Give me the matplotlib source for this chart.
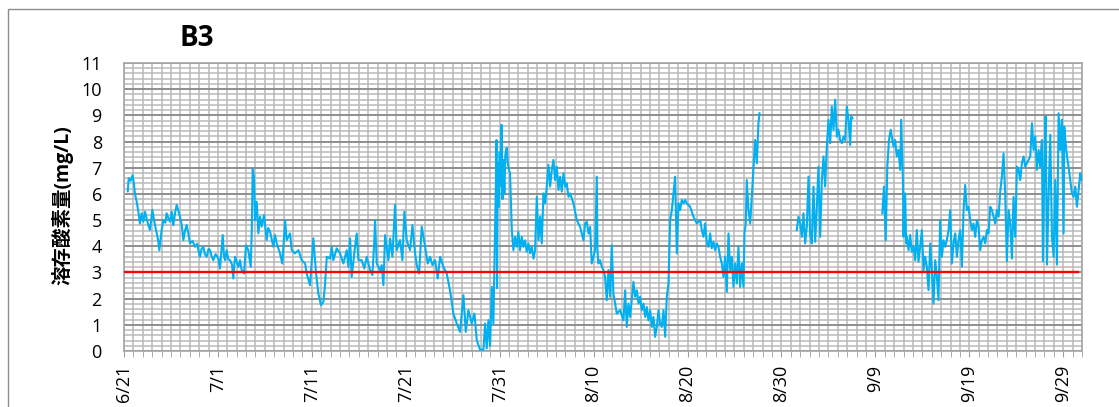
import matplotlib
matplotlib.use('Agg')
import matplotlib.pyplot as plt
from matplotlib.patches import Rectangle
from matplotlib.ticker import MultipleLocator

# days since 6/21 and dissolved oxygen (mg/L)
seg1_day = [0.40, 0.50, 0.70, 0.92, 1.05, 1.17, 1.35, 1.53, 1.70, 1.88, 2.06, 2.24, 2.45, 2.59,
            2.77, 3.02, 3.23, 3.48, 3.65, 3.76, 4.01, 4.19, 4.40, 4.54, 4.70, 4.90, 5.08, 5.25,
            5.45, 5.61, 5.96, 6.15, 6.32, 6.50, 6.67, 6.85, 7.03, 7.30, 7.56, 7.80, 7.92, 8.09,
            8.25, 8.45, 8.60, 8.80, 9.00, 9.16, 9.35, 9.51, 9.75, 10.05, 10.22, 10.51, 10.65,
            10.76, 10.93, 11.10, 11.29, 11.50, 11.64, 11.82, 12.00, 12.18, 12.35, 12.53, 12.78,
            12.99, 13.24, 13.49, 13.60, 13.70, 13.84, 13.95, 14.13, 14.31, 14.48, 14.66, 14.91,
            15.19, 15.35, 15.55, 15.90, 16.08, 16.26, 16.61, 16.86, 17.15, 17.32, 17.68, 17.86,
            18.21, 18.57, 18.92, 19.28, 19.45, 19.81, 20.16, 20.45, 20.69, 20.98, 21.23, 21.41,
            21.59, 21.94, 22.12, 22.29, 22.65, 23.00, 23.36, 23.71, 23.89, 24.07, 24.24, 24.60,
            24.78, 24.96, 25.31, 25.59, 25.84, 26.20, 26.45, 26.66, 26.73, 26.91, 27.26, 27.44,
            27.62, 27.80, 28.15, 28.33, 28.58, 28.86, 29.04, 29.39, 29.64, 29.85, 30.10, 30.46,
            30.71, 30.99, 31.17, 31.42, 31.70, 32.06, 32.34, 32.59, 32.84, 33.12, 33.40, 33.66,
            34.01, 34.36, 34.71, 35.07, 35.43, 35.78, 36.14, 36.39, 36.67, 37.02, 37.31, 37.56,
            37.91, 38.27, 38.45, 38.62, 38.80, 38.98, 39.16, 39.33, 39.51, 39.60, 39.66, 39.72,
            39.80, 39.90, 40.00, 40.10, 40.20, 40.30, 40.40, 40.50, 40.60, 40.75, 40.85, 41.00,
            41.10, 41.29, 41.46, 41.64, 41.82, 41.99, 42.17, 42.35, 42.53, 42.70, 42.88, 43.06,
            43.24, 43.42, 43.60, 43.77, 43.95, 44.13, 44.31, 44.48, 44.66, 44.84, 45.01, 45.19,
            45.37, 45.55, 45.72, 45.90, 46.08, 46.26, 46.43, 46.61, 46.79, 46.97, 47.14, 47.32,
            47.50, 47.85, 48.21, 48.56, 48.92, 49.09, 49.27, 49.45, 49.63, 49.80, 49.98, 50.16,
            50.34, 50.41, 50.51, 50.69, 50.87, 51.05, 51.22, 51.40, 51.58, 51.76, 51.93, 52.11,
            52.29, 52.47, 52.82, 53.18, 53.36, 53.53, 53.71, 53.89, 54.24, 54.42, 54.60, 54.78,
            54.95, 55.13, 55.31, 55.49, 55.66, 55.84, 56.02, 56.20, 56.37, 56.55, 56.73, 56.91,
            57.08, 57.26, 57.44, 57.62, 57.79, 57.97, 58.15, 58.33, 58.50, 58.68, 58.86, 59.04,
            59.21, 59.39, 59.57, 59.75, 59.92, 60.28, 60.63, 60.99, 61.35, 61.52, 61.70, 61.87,
            62.06, 62.23, 62.41, 62.58, 62.76, 62.94, 63.12, 63.29, 63.47, 63.65, 63.83, 64.00,
            64.18, 64.36, 64.54, 64.71, 64.89, 65.07, 65.25, 65.42, 65.60, 65.78, 65.96, 66.06,
            66.20, 66.31, 66.49, 66.67, 66.84, 67.02, 67.20, 67.38, 67.55, 67.66]
seg1_do = [6.10, 6.60, 6.50, 6.72, 6.40, 6.00, 5.70, 5.32, 4.87, 5.26, 4.94, 5.32, 5.00, 4.81,
           4.62, 5.39, 4.94, 4.49, 4.20, 3.85, 4.62, 5.00, 4.90, 5.26, 5.10, 4.94, 5.32, 4.81,
           5.30, 5.58, 5.13, 4.80, 4.24, 4.60, 4.81, 4.50, 4.11, 4.20, 3.98, 4.10, 3.85, 3.60,
           3.90, 3.98, 3.70, 3.60, 3.90, 3.85, 3.60, 3.47, 3.70, 3.53, 3.15, 4.43, 3.60,
           3.47, 3.85, 3.50, 3.47, 3.30, 2.77, 3.60, 3.40, 3.21, 3.47, 3.09, 2.96,
           4.04, 3.85, 3.21, 4.50, 6.94, 6.66, 5.00, 5.70, 4.49, 5.13, 4.75, 5.19,
           4.24, 4.70, 4.56, 3.98, 4.43, 4.11, 3.73, 3.34, 5.00, 4.24, 4.49, 3.85,
           3.73, 3.85, 3.47, 3.34, 2.96, 2.51, 4.30, 2.96, 2.20, 1.75, 1.88, 2.56,
           3.60, 3.53, 3.98, 3.47, 3.92, 3.73, 3.34, 3.85, 3.21, 4.30, 2.83, 3.98,
           4.49, 3.47, 3.47, 3.15, 3.60, 3.09, 2.90, 4.30, 5.00, 3.34, 3.09, 3.28,
           2.51, 4.43, 3.47, 4.30, 3.60, 5.58, 3.85, 4.24, 3.47, 5.32, 4.24, 3.85,
           4.81, 3.73, 3.28, 2.96, 4.75, 3.98, 3.34, 3.60, 3.28, 3.47, 2.77, 3.60,
           3.21, 2.96, 2.32, 1.43, 1.05, 0.73, 2.13, 0.73, 1.56, 1.05, 1.43, 0.41,
           0.05, 0.05, 1.05, 0.10, 1.18, 0.20, 2.45, 1.05, 4.62, 6.50, 8.06, 2.40,
           7.20, 5.50, 7.60, 6.30, 8.64, 5.80, 7.30, 6.00, 7.50, 7.76, 7.20, 6.90,
           6.80, 4.62, 3.85, 4.36, 3.98, 4.55, 3.85, 4.36, 3.98, 4.23, 3.79, 4.11,
           3.73, 3.98, 3.53, 3.85, 5.89, 4.23, 5.13, 4.11, 6.02, 5.64, 6.28, 7.11,
           6.28, 6.92, 7.30, 6.53, 7.04, 6.15, 6.66, 6.09, 6.79, 6.28, 6.41, 5.89,
           6.02, 5.64, 5.00, 4.74, 4.23, 4.87, 4.94, 4.49, 4.74, 3.34, 3.60, 3.85,
           6.66, 3.85, 3.34, 3.47, 3.22, 3.09, 2.83, 1.94, 3.09, 2.07, 4.04, 2.19,
           1.81, 1.43, 1.56, 1.17, 2.32, 0.92, 1.81, 1.30, 2.64, 2.07, 2.32, 1.81,
           2.07, 1.56, 1.81, 1.30, 1.68, 1.17, 1.56, 0.92, 1.30, 0.54, 0.92, 1.56,
           1.05, 0.92, 1.56, 0.54, 2.07, 2.58, 5.00, 5.38, 6.02, 6.66, 3.73, 5.64,
           5.38, 5.77, 5.64, 5.77, 5.64, 5.51, 5.13, 4.87, 5.00, 4.62, 4.36, 4.87,
           4.11, 3.98, 4.49, 3.92, 4.17, 3.85, 4.11, 3.98, 3.60, 3.34, 2.83, 3.60,
           2.26, 4.49, 3.09, 3.60, 2.45, 3.34, 2.58, 3.98, 2.45, 3.34, 2.45, 4.49,
           4.87, 6.53, 5.38, 4.87, 5.89, 6.92, 8.06, 7.17, 8.70, 9.08]

seg2_day = [71.63, 71.81, 71.99, 72.17, 72.34, 72.52, 72.70, 72.88, 73.05, 73.23, 73.41, 73.59,
            73.77, 73.94, 74.12, 74.30, 74.48, 74.65, 74.83, 75.01, 75.19, 75.36, 75.54, 75.72,
            75.90, 76.07, 76.25, 76.43, 76.61, 76.78, 76.96, 77.14, 77.32, 77.42, 77.56]
seg2_do = [4.62, 5.13, 4.87, 4.36, 5.26, 4.11, 4.74, 6.66, 4.49, 4.11, 6.28, 4.17,
           5.51, 7.04, 4.36, 6.53, 7.43, 6.28, 7.81, 8.83, 7.94, 9.34, 8.45, 9.60,
           8.19, 8.45, 8.06, 7.94, 8.19, 8.06, 9.34, 8.83, 7.87, 8.96, 8.89]

seg3_day = [80.74, 80.92, 81.10, 81.27, 81.45, 81.63, 81.75, 81.93, 82.11, 82.28, 82.46, 82.64,
            82.75, 82.93, 83.00, 83.07, 83.17, 83.28, 83.35, 83.53, 83.70, 83.88, 84.06, 84.24,
            84.41, 84.59, 84.77, 84.95, 85.13, 85.30, 85.48, 85.66, 85.84, 86.01, 86.19, 86.37,
            86.55, 86.72, 86.90, 87.08, 87.26, 87.43, 87.61, 87.79, 87.97, 88.14, 88.32, 88.50,
            88.68, 88.85, 89.03, 89.21, 89.39, 89.56, 89.74, 89.92, 90.10, 90.27, 90.45, 90.63,
            90.81, 90.99, 91.16, 91.34, 91.52, 91.70, 91.87, 92.05, 92.23, 92.41, 92.58, 92.76,
            92.94, 93.12, 93.29, 93.47, 93.65, 93.83, 94.00, 94.18, 94.36, 94.54, 94.71, 94.89,
            95.07, 95.25, 95.42, 95.60, 95.78, 95.96, 96.13, 96.31, 96.49, 96.67, 96.84, 97.02,
            97.20, 97.38, 97.55, 97.73, 97.84, 97.98, 98.12, 98.27, 98.44, 98.62, 98.80, 98.98,
            99.15, 99.33, 99.51, 99.69, 99.86, 100.04, 100.11, 100.29, 100.40, 100.57, 100.75,
            100.93, 101.11, 101.28, 101.46, 101.64, 101.82, 101.95]
seg3_do = [5.26, 6.28, 4.23, 7.04, 8.06, 8.45, 8.19, 7.81, 8.06, 7.43, 7.68, 6.92,
           8.83, 6.53, 4.36, 5.89, 6.02, 4.11, 4.36, 3.85, 4.43, 3.79, 3.98, 3.47,
           4.62, 3.41, 3.98, 4.62, 3.09, 3.60, 3.22, 2.32, 4.11, 3.09, 1.81, 3.47,
           2.83, 1.94, 5.00, 3.60, 4.23, 3.98, 4.23, 4.62, 5.38, 3.34, 4.11, 4.49,
           3.60, 4.23, 4.62, 3.22, 5.38, 6.34, 5.38, 5.51, 5.00, 4.62, 4.87, 4.36,
           5.00, 4.74, 3.85, 4.23, 4.36, 4.11, 4.62, 4.49, 5.51, 5.38, 5.13, 4.87,
           5.38, 5.13, 6.08, 6.66, 7.55, 5.89, 3.43, 5.38, 4.87, 3.53, 5.89, 4.36,
           7.04, 6.92, 6.53, 7.17, 7.43, 7.04, 7.17, 7.30, 7.43, 8.70, 7.68, 8.19,
           6.92, 7.68, 7.04, 8.06, 3.43, 6.92, 8.96, 3.30, 5.89, 8.26, 4.36, 3.60,
           6.53, 3.30, 9.08, 7.68, 8.83, 4.49, 8.57, 7.81, 7.43, 7.04, 6.53,
           6.02, 5.89, 6.28, 5.51, 6.15, 6.79, 6.53]

limit_do = 3.0
tick_days = [0, 10, 20, 30, 40, 50, 60, 70, 80, 90, 100]
tick_labels = ['6/21', '7/1', '7/11', '7/21', '7/31', '8/10', '8/20', '8/30', '9/9', '9/19', '9/29']

plt.rcParams['font.family'] = ['Open Sans', 'Noto Sans CJK JP', 'DejaVu Sans']

fig = plt.figure(figsize=(11.19, 4.07), dpi=100)
ax = fig.add_axes([124 / 1119, 1 - 351 / 407, (1082 - 124) / 1119, (351 - 63) / 407])

blue = '#00b0f0'
for d, v in [(seg1_day, seg1_do), (seg2_day, seg2_do), (seg3_day, seg3_do)]:
    ax.plot(d, v, color=blue, lw=1.5, zorder=3)
ax.plot([0, 101.6], [limit_do, limit_do], color='#ff0000', lw=1.7, zorder=4)

ax.set_xlim(0, 102)
ax.set_ylim(0, 11)
ax.xaxis.set_major_locator(MultipleLocator(10))
ax.xaxis.set_minor_locator(MultipleLocator(1))
ax.set_xticks(tick_days)
ax.set_xticklabels(tick_labels, rotation=90)
ax.yaxis.set_major_locator(MultipleLocator(1))
ax.yaxis.set_minor_locator(MultipleLocator(0.2))

ax.grid(which='minor', color='#b9b9b9', lw=1.1, zorder=0)
ax.grid(which='major', axis='x', color='#b9b9b9', lw=1.1, zorder=0)
ax.grid(which='major', axis='y', color='#8e8e8e', lw=1.4, zorder=1)
ax.set_axisbelow(True)

ax.tick_params(axis='x', which='both', direction='out', length=4, color='#a0a0a0',
               labelsize=13, pad=6)
ax.tick_params(axis='y', which='both', length=0, labelsize=13, pad=16)
for s in ax.spines.values():
    s.set_color('#a6a6a6')
    s.set_linewidth(1.2)

fig.text(197 / 1119, 1 - 39 / 407, 'B3', fontsize=20, fontweight='bold', ha='center', va='center')
fig.text(62 / 1119, 1 - 205 / 407, '溶存酸素量(mg/L)', rotation=90, fontsize=14,
         fontweight='bold', ha='center', va='center')

fig.patches.append(Rectangle((8 / 1119, -0.1), 1.2, 1 - 9 / 407 + 0.1, transform=fig.transFigure,
                             fill=False, ec='#8c8c8c', lw=1.0))

fig.savefig('out.png', dpi=100)
